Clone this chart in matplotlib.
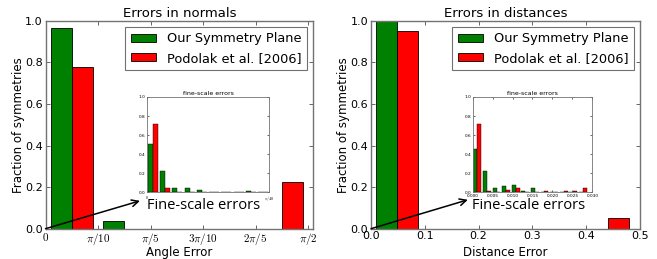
import matplotlib
matplotlib.use('Agg')
import matplotlib.pyplot as plt
import numpy as np

plt.rcParams['mathtext.fontset'] = 'cm'

labels = ['Our Symmetry Plane', 'Podolak et al. [2006]']
colors = ['green', 'red']

# errors in normals (fraction per bin, 5 bins over [0, pi/2])
normal_bins = np.linspace(0, np.pi / 2, 6)
normal_ours = [0.963, 0.037, 0.0, 0.0, 0.0]
normal_podolak = [0.776, 0.0, 0.0, 0.0, 0.224]

# fine-scale normals (10 bins over [0, pi/40])
fine_normal_bins = np.linspace(0, np.pi / 40, 11)
fine_normal_ours = [0.51, 0.22, 0.042, 0.042, 0.025, 0.0, 0.0, 0.0, 0.014, 0.0]
fine_normal_podolak = [0.72, 0.042, 0.0, 0.0, 0.0, 0.0, 0.0, 0.0, 0.0, 0.0]

# errors in distances (5 bins)
dist_bins = np.linspace(0, 0.49, 6)
dist_ours = [1.0, 0.0, 0.0, 0.0, 0.0]
dist_podolak = [0.95, 0.0, 0.0, 0.0, 0.05]

# fine-scale distances (12 bins)
fine_dist_bins = np.linspace(0, 0.0288, 13)
fine_dist_ours = [0.46, 0.22, 0.045, 0.063, 0.08, 0.018, 0.05, 0, 0, 0, 0, 0]
fine_dist_podolak = [0.72, 0.02, 0, 0.03, 0.05, 0, 0, 0.018, 0, 0.018, 0.018, 0.05]

normal_ticks = [0, np.pi / 10, np.pi / 5, 3 * np.pi / 10, 2 * np.pi / 5, np.pi / 2]
normal_ticklabels = [r'$0$', r'$\pi/10$', r'$\pi/5$', r'$3\pi/10$', r'$2\pi/5$', r'$\pi/2$']


def histo(ax, bins, ours, podolak, lw=0.6):
    centers = (bins[:-1] + bins[1:]) / 2
    ax.hist([centers, centers], bins=bins, weights=[ours, podolak],
            color=colors, label=labels, edgecolor='black', linewidth=lw)


def style(ax, size, spine_lw=1.0):
    for s in ax.spines.values():
        s.set_color('0.45')
        s.set_linewidth(spine_lw)
    ax.tick_params(direction='in', top=True, right=True, labelsize=size,
                   length=3, width=0.6, color='0.3', pad=2)


fig = plt.figure(figsize=(6.57, 2.59), dpi=100)
fig.patch.set_facecolor('white')

# main panels
ax1 = fig.add_axes([0.0693, 0.117, 0.4071, 0.803])
ax2 = fig.add_axes([0.5647, 0.117, 0.4094, 0.803])

histo(ax1, normal_bins, normal_ours, normal_podolak)
ax1.set_xlim(0, 1.6)
ax1.set_xticks(normal_ticks)
ax1.set_xticklabels(normal_ticklabels)
ax1.set_xlabel('Angle Error', fontsize=8.5)
ax1.set_title('Errors in normals', fontsize=9.5, pad=3)

histo(ax2, dist_bins, dist_ours, dist_podolak)
ax2.set_xlim(0, 0.5)
ax2.set_xticks([0.0, 0.1, 0.2, 0.3, 0.4, 0.5])
ax2.set_xlabel('Distance Error', fontsize=8.5)
ax2.set_title('Errors in distances', fontsize=9.5, pad=3)

for ax in (ax1, ax2):
    ax.set_ylim(0, 1.0)
    ax.set_yticks([0.0, 0.2, 0.4, 0.6, 0.8, 1.0])
    ax.set_yticklabels(['0.0', '0.2', '0.4', '0.6', '0.8', '1.0'])
    ax.set_ylabel('Fraction of symmetries', fontsize=8.5)
    ax.xaxis.set_label_coords(0.5, -0.085)
    ax.yaxis.set_label_coords(-0.077, 0.5)
    style(ax, 8)
    leg = ax.legend(loc='upper right', fontsize=9.3, fancybox=False,
                    handlelength=2.0, borderaxespad=0.5, handleheight=0.6)
    leg.get_frame().set_edgecolor('0.3')
    leg.get_frame().set_linewidth(0.8)

# arrows and captions
ax1.annotate('', xy=(0.565, 0.134), xytext=(0, 0),
             arrowprops=dict(arrowstyle='->', lw=1.1, color='black',
                             mutation_scale=12, shrinkA=0, shrinkB=0))
ax1.text(0.607, 0.112, 'Fine-scale errors', fontsize=10.5, family='Open Sans',
         va='center', ha='left')
ax2.annotate('', xy=(0.180, 0.139), xytext=(0, 0),
             arrowprops=dict(arrowstyle='->', lw=1.1, color='black',
                             mutation_scale=12, shrinkA=0, shrinkB=0))
ax2.text(0.187, 0.112, 'Fine-scale errors', fontsize=10.5, family='Open Sans',
         va='center', ha='left')

# insets
in1 = fig.add_axes([0.2233, 0.2568, 0.1866, 0.3687])
in2 = fig.add_axes([0.7192, 0.2568, 0.1826, 0.3687])

histo(in1, fine_normal_bins, fine_normal_ours, fine_normal_podolak, lw=0.3)
in1.set_xlim(0, np.pi / 40)
in1.set_xticks([0, np.pi / 40])
in1.set_xticklabels([r'$0$', r'$\pi/40$'])

histo(in2, fine_dist_bins, fine_dist_ours, fine_dist_podolak, lw=0.3)
in2.set_xlim(0, 0.03)
in2.set_xticks([0.0, 0.005, 0.01, 0.015, 0.02, 0.025, 0.03])
in2.set_xticklabels(['0.000', '0.005', '0.010', '0.015', '0.020', '0.025', '0.030'])

for ax in (in1, in2):
    ax.set_ylim(0, 1.0)
    ax.set_yticks([0.0, 0.2, 0.4, 0.6, 0.8, 1.0])
    ax.set_yticklabels(['0.0', '0.2', '0.4', '0.6', '0.8', '1.0'])
    ax.set_title('fine-scale errors', fontsize=4.5, pad=1.5)
    style(ax, 3.1, spine_lw=0.6)
    ax.tick_params(length=1.5, pad=0.8)

fig.savefig('out.png', dpi=100, facecolor='white')
